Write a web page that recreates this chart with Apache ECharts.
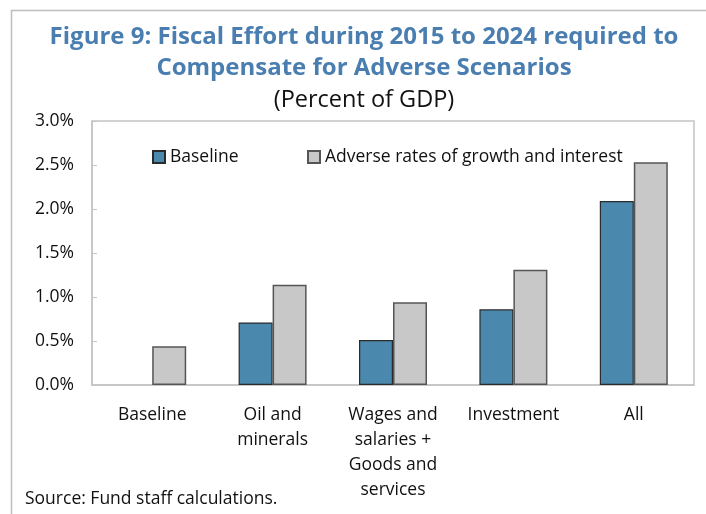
<!DOCTYPE html>
<html>
<head>
<meta charset="utf-8">
<script src="https://cdn.jsdelivr.net/npm/echarts@6/dist/echarts.min.js"></script>
<style>
html,body{margin:0;padding:0;background:#fff;}
#chart{width:706px;height:514px;}
</style>
</head>
<body>
<div id="chart"></div>
<script>
const categories = ['Baseline', 'Oil and\nminerals', 'Wages and\nsalaries +\nGoods and\nservices', 'Investment', 'All'];
const baselineValues = [null, 0.71, 0.51, 0.86, 2.09];
const adverseValues = [0.44, 1.14, 0.94, 1.31, 2.53];
const yTicks = { min: 0, max: 3, interval: 0.5 };
const seriesNames = ['Baseline', 'Adverse rates of growth and interest'];
const titleText = 'Figure 9: Fiscal Effort during 2015 to 2024 required to\nCompensate for Adverse Scenarios';
const subtitleText = '(Percent of GDP)';
const sourceText = 'Source: Fund staff calculations.';

const FONT = '"Open Sans", "Noto Sans", sans-serif';
const chart = echarts.init(document.getElementById('chart'), null, { renderer: 'canvas' });
chart.setOption({
  backgroundColor: '#fff',
  animation: false,
  graphic: [{
    type: 'rect', silent: true,
    shape: { x: 11.5, y: 10.5, width: 720, height: 540 },
    style: { fill: 'none', stroke: '#BDBDBD', lineWidth: 1.5 }
  }, {
    type: 'text', x: 364, y: 22,
    style: { text: titleText, font: 'bold 24px ' + FONT, fill: '#4A7EB0', align: 'center', lineHeight: 31 }
  }, {
    type: 'text', x: 364, y: 88,
    style: { text: subtitleText, font: '23.5px ' + FONT, fill: '#111', align: 'center' }
  }, {
    type: 'text', left: 25, top: 490,
    style: { text: sourceText, font: '17.5px ' + FONT, fill: '#111' }
  }],
  legend: [{
    data: [seriesNames[0]], left: 147, top: 143, itemWidth: 12, itemHeight: 12, icon: 'rect',
    textStyle: { fontFamily: FONT, fontSize: 17.5, color: '#111' }, itemGap: 3
  }, {
    data: [seriesNames[1]], left: 302, top: 143, itemWidth: 12, itemHeight: 12, icon: 'rect',
    textStyle: { fontFamily: FONT, fontSize: 17.5, color: '#111' }, itemGap: 3
  }],
  grid: { left: 92, right: 12, top: 121, bottom: 129, show: true, borderColor: '#C4C4C4', borderWidth: 1.5, backgroundColor: '#fff' },
  xAxis: {
    type: 'category', data: categories,
    axisLine: { lineStyle: { color: '#C4C4C4', width: 1.5 } },
    axisTick: { inside: true, length: 5, lineStyle: { color: '#C4C4C4' } },
    axisLabel: { fontFamily: FONT, fontSize: 17.5, color: '#111', lineHeight: 25, margin: 18, interval: 0 }
  },
  yAxis: {
    type: 'value', min: yTicks.min, max: yTicks.max, interval: yTicks.interval,
    splitLine: { show: false },
    axisLine: { show: true, lineStyle: { color: '#C4C4C4', width: 1.5 } },
    axisTick: { show: true, inside: true, length: 5, lineStyle: { color: '#C4C4C4' } },
    axisLabel: { fontFamily: FONT, fontSize: 17.5, color: '#111', margin: 18, formatter: v => v.toFixed(1) + '%' }
  },
  series: [{
    name: seriesNames[0], type: 'bar', data: baselineValues, barWidth: 34, barGap: '0%',
    itemStyle: { color: '#4A89AD', borderColor: '#2B2B2B', borderWidth: 1.2 }
  }, {
    name: seriesNames[1], type: 'bar', data: adverseValues, barWidth: 34, barGap: '0%',
    itemStyle: { color: '#C8C8C8', borderColor: '#555', borderWidth: 1.5 }
  }]
});
</script>
</body>
</html>
